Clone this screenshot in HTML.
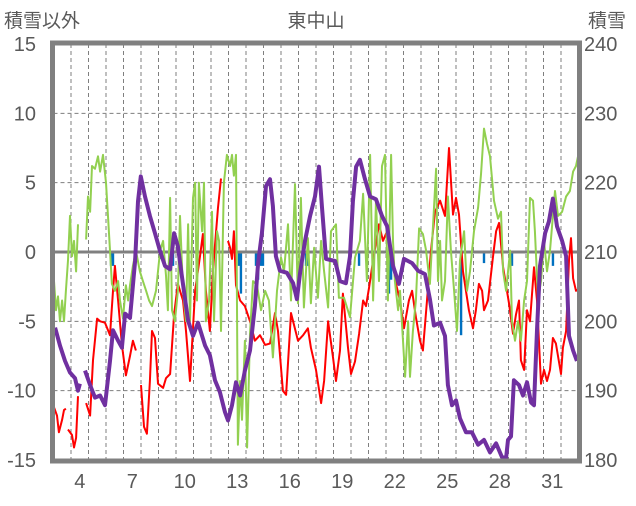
<!DOCTYPE html>
<html><head><meta charset="utf-8"><style>
body{margin:0;background:#fff;}
svg text{font-family:"Liberation Sans","Noto Sans CJK JP",sans-serif;fill:#595959;}
</style></head><body>
<svg id="chart" width="636" height="501" viewBox="0 0 636 501" xmlns="http://www.w3.org/2000/svg">
<text x="4" y="27" font-size="19">積雪以外</text>
<text x="316" y="27" font-size="19" text-anchor="middle">東中山</text>
<text x="588" y="27" font-size="19">積雪</text>
<g id="grid"></g>
<g id="bars"></g>
<g id="lines"></g>
<g id="axes"></g>
</svg>
<script>
const leftTicks=[15,10,5,0,-5,-10,-15];
const rightTicks=[240,230,220,210,200,190,180];
const xTickDays=[4,7,10,13,16,19,22,25,28,31];
const barT=[6.29,6.4,7.66,9.14,9.83,13.6,13.71,14.57,14.69,14.86,14.97,17.43,17.54,20.46,21.6,22.17,22.29,26.29,27.6,29.2,31.54];
const barV=[1,1,1,0.5,1,1,3,1,2,1,1,1,1,1,1,3,2,6,0.8,1,1];
const redT=[3.03,3.2,3.31,3.49,3.6,3.71,null,3.83,4.06,4.17,4.29,4.4,null,4.86,5.09,5.26,5.49,5.66,5.94,6.23,6.4,6.51,6.69,6.91,7.14,7.37,7.54,7.71,null,8.0,8.17,8.34,8.51,8.63,8.8,8.97,9.26,9.43,9.66,9.89,10.11,10.4,10.57,10.8,11.09,11.37,11.54,11.71,11.94,12.11,12.4,12.57,null,12.97,13.09,13.2,13.31,13.43,13.66,13.94,14.23,14.51,14.8,15.09,15.37,15.66,15.83,16.11,16.29,16.57,16.97,17.26,17.54,17.71,18.0,18.29,18.46,18.69,18.97,19.14,19.37,19.54,19.83,20.0,20.23,20.46,20.69,20.86,21.03,21.26,21.6,21.83,22.06,22.23,22.4,22.57,22.8,23.03,23.31,23.49,23.71,23.94,24.11,24.34,24.57,24.8,25.09,25.37,25.6,25.83,26.0,26.17,26.4,26.74,26.97,27.14,27.31,27.49,27.6,27.83,28.11,28.29,28.46,28.69,29.03,29.26,29.43,29.6,29.71,29.89,30.06,30.23,30.46,30.63,30.86,31.03,31.2,31.37,31.54,31.71,32.0,32.11,32.29,32.46,32.57,32.69,32.86,32.97];
const redV=[-11.2,-11.8,-13.0,-12.1,-11.4,-11.3,null,-12.8,-13.2,-14.1,-13.4,-10.4,null,-10.9,-11.8,-7.8,-4.8,-5.0,-5.1,-6.0,-2.8,-1.0,-3.5,-6.7,-8.9,-7.5,-6.4,-7.1,null,-9.6,-12.6,-13.1,-9.3,-5.7,-6.2,-9.5,-9.8,-9.1,-8.8,-4.5,-2.3,-3.5,-5.7,-9.3,-2.8,-0.3,1.3,-2.8,-5.7,-1.4,3.2,5.3,null,0.8,0.3,-0.5,1.5,-2.4,-3.5,-3.9,-5.0,-6.4,-6.0,-6.7,-6.6,-4.4,-5.7,-10.0,-10.3,-4.4,-6.4,-6.0,-5.5,-6.9,-8.5,-10.9,-9.3,-5.0,-7.6,-9.3,-7.1,-3.0,-6.9,-8.8,-7.9,-5.9,-3.5,-3.9,-2.6,-0.6,2.0,0.8,1.5,0.4,-0.9,-2.3,-3.5,-5.5,-3.5,-2.8,-4.7,-6.4,-7.1,-3.5,0.1,2.9,3.7,2.6,7.5,2.7,3.9,2.7,-1.4,-4.2,-5.5,-4.2,-2.3,-2.8,-4.2,-3.5,-0.4,1.5,2.1,-1.1,-3.7,-5.9,-4.5,-3.5,-7.8,-8.5,-4.2,-5.0,-1.1,-3.5,-9.5,-8.5,-9.3,-8.5,-6.2,-6.6,-8.8,-6.9,-5.7,-0.6,1.0,-1.9,-2.8,-2.7];
const greenT=[3.03,3.14,3.26,3.37,3.49,3.6,3.71,3.83,3.94,4.06,4.17,4.29,4.4,null,4.86,4.97,5.09,5.2,5.37,5.54,5.66,5.83,6.0,6.11,6.23,6.34,6.51,6.69,6.8,6.97,7.14,7.26,7.37,7.54,7.71,7.94,8.11,8.29,8.46,8.63,8.86,9.09,9.26,9.43,9.54,9.66,9.77,9.94,10.11,10.23,10.4,10.57,10.69,10.8,10.97,11.09,11.2,11.31,11.49,11.6,11.71,11.89,12.06,12.17,12.34,12.46,12.57,12.74,12.91,13.09,13.2,13.31,13.43,13.54,13.66,13.77,13.94,14.06,14.23,14.4,14.63,14.86,15.09,15.31,15.54,15.77,16.0,16.17,16.4,16.57,16.8,16.97,17.14,17.31,17.54,17.71,17.89,18.11,18.29,18.46,18.69,18.86,19.14,19.31,19.6,19.94,20.23,20.51,20.69,20.91,21.09,21.26,21.43,21.6,21.77,21.94,22.11,22.29,22.4,22.51,22.69,22.8,22.97,23.09,23.26,23.37,23.54,23.71,23.89,24.11,24.29,24.51,24.69,24.86,24.97,25.09,25.2,25.37,25.54,25.71,25.89,26.06,26.23,26.46,26.63,26.8,27.03,27.26,27.43,27.6,27.77,27.94,28.17,28.4,28.57,28.69,28.86,29.09,29.2,29.37,29.54,29.71,29.89,30.06,30.23,30.4,30.51,30.69,30.86,31.03,31.2,31.37,31.66,31.83,32.06,32.29,32.51,32.69,32.86,32.99];
const greenV=[-2.1,-4.2,-3.2,-5.0,-3.5,-5.0,-2.8,-0.6,2.6,-0.3,0.8,-1.4,2.0,null,0.9,4.0,2.9,6.2,6.0,6.9,5.8,7.0,5.0,2.7,0.1,-2.3,-2.8,-2.1,-3.5,-4.8,-2.4,-3.5,-2.4,-1.0,0.1,-1.4,-2.1,-2.8,-3.5,-3.9,-2.8,0.1,0.8,-1.7,-4.2,3.9,-4.2,-5.0,-2.8,2.6,-2.8,-5.0,2.0,-5.0,3.9,5.0,-3.5,5.0,1.5,5.0,-5.0,-3.5,2.9,-5.0,1.5,0.8,-5.7,5.0,7.0,6.2,7.0,5.5,7.0,-13.9,-9.3,-12.1,-6.4,-14.1,-5.9,-2.1,-2.4,-4.2,-2.8,-3.5,-7.6,-2.8,-0.4,-1.4,2.0,-3.5,4.9,-3.7,3.9,-4.0,1.0,-3.7,0.3,-3.3,0.8,-1.4,-4.0,1.5,2.0,-3.3,-3.3,-4.7,-0.4,0.8,4.2,-2.1,7.0,-3.5,3.7,-2.1,6.2,7.0,-3.5,7.0,0.8,-2.1,-4.2,-2.8,-6.4,-9.0,-5.0,-9.0,-5.7,-3.5,1.7,1.3,0.1,-2.3,2.0,6.0,-2.1,0.8,-3.5,-2.1,4.0,0.1,-2.8,-5.7,-0.6,1.5,-2.8,-1.4,1.5,3.2,5.6,8.9,7.8,6.9,3.7,2.4,2.9,-1.4,-2.8,0.1,-5.0,-6.4,-5.0,-6.4,-3.5,-2.1,3.9,3.7,1.5,-3.5,-2.1,0.8,-1.4,0.1,4.4,2.6,2.9,4.0,4.4,5.8,6.2,7.0];
const snowT=[3.09,3.37,3.66,3.94,4.23,4.4,4.51,null,4.8,5.09,5.37,5.66,5.94,6.23,6.4,6.69,6.91,7.09,7.37,7.66,7.83,7.99,8.23,8.51,8.8,9.09,9.37,9.66,9.89,10.11,10.34,10.69,10.97,11.26,11.66,11.94,12.23,12.51,12.8,12.97,13.2,13.43,13.66,13.94,14.23,14.51,14.69,14.91,15.14,15.37,15.54,15.71,15.94,16.34,16.69,16.91,17.09,17.37,17.66,17.94,18.17,18.34,18.57,19.09,19.37,19.71,19.94,20.11,20.29,20.51,20.8,21.09,21.43,21.77,22.06,22.4,22.74,23.03,23.49,23.83,24.23,24.51,24.74,25.09,25.37,25.54,25.77,26.0,26.23,26.57,26.91,27.26,27.6,27.94,28.29,28.63,28.86,28.97,29.14,29.31,29.6,29.83,30.06,30.29,30.46,30.63,30.8,31.09,31.31,31.54,31.77,32.06,32.29,32.46,32.69,32.91];
const snowV=[199.1,196.5,194.3,192.6,191.8,190.0,191.0,null,192.9,190.8,189.0,189.3,187.9,194.3,198.7,197.2,196.2,201.1,200.5,208.7,217.3,220.9,218.0,215.2,212.7,210.1,208.0,207.5,212.7,210.8,206.5,200.1,197.9,199.8,196.5,195.1,191.5,189.8,186.9,185.7,187.9,191.2,189.3,192.9,195.8,202.2,208.4,212.7,219.5,220.5,216.6,209.4,207.3,207.0,205.5,203.2,207.0,211.6,215.2,218.0,222.3,216.6,209.0,208.7,205.8,205.5,209.4,217.3,222.3,223.3,220.5,218.0,217.6,215.2,213.7,208.0,205.4,209.0,208.4,207.3,206.8,203.2,199.4,199.8,197.9,190.8,187.9,188.6,186.0,184.0,184.0,182.2,182.9,181.1,182.4,180.4,180.3,182.9,183.4,191.5,190.8,189.3,191.2,188.3,187.9,198.7,208.0,212.7,214.4,217.7,213.7,211.6,209.4,197.9,195.8,194.3];

const NS='http://www.w3.org/2000/svg';
const X0=53.5,X1=578.5,Y0=44,Y1=460,D0=3,D1=33;
const xS=t=>X0+(t-D0)/(D1-D0)*(X1-X0);
const yL=v=>Y1-(v+15)/30*(Y1-Y0);
const yR=s=>Y1-(s-180)/60*(Y1-Y0);
function mk(tag,attrs,parent){const e=document.createElementNS(NS,tag);for(const k in attrs)e.setAttribute(k,attrs[k]);parent.appendChild(e);return e;}
const grid=document.getElementById('grid'),bars=document.getElementById('bars'),lines=document.getElementById('lines'),axes=document.getElementById('axes');
for(let d=D0+1;d<D1;d++){const l=mk('line',{x1:xS(d),x2:xS(d),y1:Y0,y2:Y1,stroke:'#7f7f7f','stroke-width':1,'stroke-dasharray':'4,3'},grid);

}
leftTicks.forEach((v,i)=>{
 if(v!==0&&v!==15&&v!==-15){const l=mk('line',{x1:X0,x2:X1,y1:yL(v),y2:yL(v),stroke:'#7f7f7f','stroke-width':1,'stroke-dasharray':'4,3'},grid);
 
 }
 const t=mk('text',{x:36,y:yL(v)+7,'font-size':20,'text-anchor':'end'},axes);t.textContent=v;
 
 
});
rightTicks.forEach(s=>{const t=mk('text',{x:584,y:yR(s)+7,'font-size':20},axes);t.textContent=s;
 
 });
xTickDays.forEach(d=>{const t=mk('text',{x:xS(d+0.5),y:488,'font-size':20,'text-anchor':'middle'},axes);t.textContent=d;
 
 });
barT.forEach((t,i)=>{const r=mk('rect',{x:xS(t)-1.2,y:yL(0),width:2.4,height:yL(-barV[i])-yL(0),fill:'#0070C0'},bars);
 
 });
function path(T,V,yf){let d='',pen=false;for(let i=0;i<T.length;i++){if(T[i]===null||V[i]===null){pen=false;continue;}d+=(pen?'L':'M')+xS(T[i]).toFixed(1)+' '+yf(V[i]).toFixed(1);pen=true;}return d;}
const zl=mk('line',{x1:X0,x2:X1,y1:yL(0),y2:yL(0),stroke:'#808080','stroke-width':3},lines);


const pr=mk('path',{d:path(redT,redV,yL),fill:'none',stroke:'#FF0000','stroke-width':2,'stroke-linejoin':'round'},lines);


const pg=mk('path',{d:path(greenT,greenV,yL),fill:'none',stroke:'#92D050','stroke-width':2,'stroke-linejoin':'round'},lines);


const pp=mk('path',{d:path(snowT,snowV,yR),fill:'none',stroke:'#7030A0','stroke-width':4,'stroke-linejoin':'round'},lines);


const fr=mk('rect',{x:X0-1,y:Y0-1,width:X1-X0+2,height:Y1-Y0+2,fill:'none',stroke:'#808080','stroke-width':5},axes);


</script>
</body></html>
